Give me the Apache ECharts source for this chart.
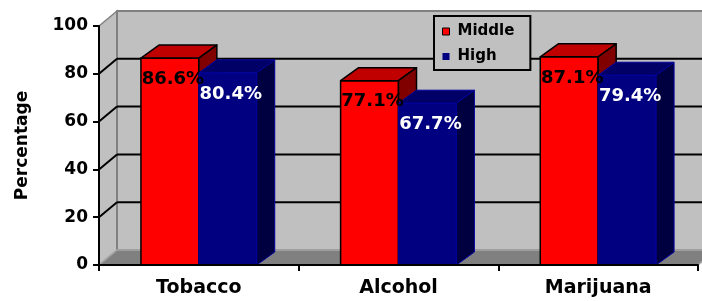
<!DOCTYPE html>
<html>
<head>
<meta charset="utf-8">
<script src="https://cdn.jsdelivr.net/npm/echarts@6/dist/echarts.min.js"></script>
<style>
    html, body { margin: 0; padding: 0; background: #fff; }
    #chart { width: 702px; height: 301px; }
</style>
</head>
<body>
<div id="chart"></div>
<script>
const categories = ['Tobacco', 'Alcohol', 'Marijuana'];
const middleValues = [86.6, 77.1, 87.1];
const highValues = [80.4, 67.7, 79.4];
const yTicks = [0, 20, 40, 60, 80, 100];

const fontFamily = '"DejaVu Sans", sans-serif';
const wallDepth = [18, 15];
const barDepth = [18, 13];
const barRatio = 0.29;

// back wall, side wall, floor and the gridlines on them
function renderWalls(params, api) {
    const cs = params.coordSys;
    const x0 = cs.x;
    const x1 = cs.x + cs.width;
    const dx = wallDepth[0], dy = wallDepth[1];
    const yBase = api.coord([0, yTicks[0]])[1];
    const yTop = api.coord([0, yTicks[yTicks.length - 1]])[1];
    const children = [
        {
            type: 'polygon',
            z2: 0,
            shape: { points: [[x0, yTop], [x0 + dx, yTop - dy], [x0 + dx, yBase - dy], [x0, yBase]] },
            style: { fill: '#c0c0c0', stroke: '#808080', lineWidth: 1.5 }
        },
        {
            type: 'polygon',
            z2: 0,
            shape: { points: [[x0 + dx, yTop - dy], [x1 + dx, yTop - dy], [x1 + dx, yBase - dy], [x0 + dx, yBase - dy]] },
            style: { fill: '#c0c0c0', stroke: '#808080', lineWidth: 2 }
        },
        {
            type: 'polygon',
            z2: 0,
            shape: { points: [[x0, yBase], [x0 + dx, yBase - dy], [x1 + dx, yBase - dy], [x1, yBase]] },
            style: { fill: '#808080', stroke: '#a8a8a8', lineWidth: 1.5 }
        }
    ];
    yTicks.slice(1, -1).forEach(v => {
        const y = api.coord([0, v])[1];
        children.push({
            type: 'line',
            z2: 5,
            shape: { x1: x0, y1: y, x2: x0 + dx, y2: y - dy },
            style: { stroke: '#000', lineWidth: 2 }
        });
        children.push({
            type: 'line',
            z2: 5,
            shape: { x1: x0 + dx, y1: y - dy, x2: x1 + dx, y2: y - dy },
            style: { stroke: '#000', lineWidth: 2 }
        });
    });
    return { type: 'group', children: children };
}

function barRenderer(side, colors) {
    return function (params, api) {
        const p = api.coord([api.value(0), api.value(1)]);
        const base = api.coord([api.value(0), 0]);
        const w = api.size([1, 0])[0] * barRatio;
        const xl = side < 0 ? p[0] - w : p[0];
        const xr = xl + w;
        const dx = barDepth[0], dy = barDepth[1];
        const st = { stroke: colors.stroke, lineWidth: colors.lineWidth, lineJoin: 'round' };
        return {
            type: 'group',
            children: [
                {
                    type: 'polygon',
                    shape: { points: [[xl, p[1]], [xr, p[1]], [xr, base[1]], [xl, base[1]]] },
                    style: Object.assign({ fill: colors.front }, st)
                },
                {
                    type: 'polygon',
                    shape: { points: [[xl, p[1]], [xl + dx, p[1] - dy], [xr + dx, p[1] - dy], [xr, p[1]]] },
                    style: Object.assign({ fill: colors.top }, st)
                },
                {
                    type: 'polygon',
                    shape: { points: [[xr, p[1]], [xr + dx, p[1] - dy], [xr + dx, base[1] - dy], [xr, base[1]]] },
                    style: Object.assign({ fill: colors.side }, st)
                }
            ]
        };
    };
}

function renderLabel(params, api) {
    const s = api.value(2);
    const p = api.coord([api.value(0), api.value(1)]);
    const w = api.size([1, 0])[0] * barRatio;
    const cx = s === 0 ? p[0] - w / 2 : p[0] + w / 2;
    return {
        type: 'text',
        x: cx + 3,
        y: p[1] + 21,
        style: {
            text: api.value(1).toFixed(1) + '%',
            fill: s === 0 ? '#000' : '#fff',
            font: 'bold 18px ' + fontFamily,
            align: 'center',
            verticalAlign: 'middle'
        }
    };
}

const labelData = [];
categories.forEach((c, i) => {
    labelData.push([i, middleValues[i], 0]);
    labelData.push([i, highValues[i], 1]);
});

const chart = echarts.init(document.getElementById('chart'));
chart.setOption({
    animation: false,
    grid: { left: 99, right: 4, top: 26, bottom: 36 },
    legend: {
        orient: 'vertical',
        left: 434,
        top: 16,
        data: [
            { name: 'Middle', itemStyle: { borderColor: '#000', borderWidth: 1 } },
            { name: 'High' }
        ],
        icon: 'rect',
        itemWidth: 7,
        itemHeight: 7,
        itemGap: 10,
        padding: [8, 16, 6, 8],
        backgroundColor: '#c0c0c0',
        borderColor: '#000',
        borderWidth: 2,
        textStyle: {
            fontFamily: fontFamily,
            fontWeight: 'bold',
            fontSize: 15,
            color: '#000',
            padding: [0, 0, 0, 3]
        }
    },
    xAxis: {
        type: 'category',
        data: categories,
        axisLine: { lineStyle: { color: '#000', width: 2 } },
        axisTick: { show: true, length: 6, lineStyle: { color: '#000', width: 2 } },
        axisLabel: {
            fontFamily: fontFamily,
            fontWeight: 'bold',
            fontSize: 19,
            color: '#000',
            margin: 14
        },
        z: 5
    },
    yAxis: {
        type: 'value',
        min: 0,
        max: 100,
        interval: 20,
        name: 'Percentage',
        nameLocation: 'middle',
        nameRotate: 90,
        nameGap: 68,
        nameTextStyle: {
            fontFamily: fontFamily,
            fontWeight: 'bold',
            fontSize: 17,
            color: '#000'
        },
        axisLine: { show: true, lineStyle: { color: '#000', width: 2 } },
        axisTick: { show: true, length: 6, lineStyle: { color: '#000', width: 2 } },
        axisLabel: {
            fontFamily: fontFamily,
            fontWeight: 'bold',
            fontSize: 17,
            color: '#000',
            margin: 11
        },
        splitLine: { show: false },
        z: 5
    },
    series: [
        {
            type: 'custom',
            name: 'walls',
            z: 1,
            silent: true,
            data: [[0, 0]],
            renderItem: renderWalls
        },
        {
            type: 'custom',
            name: 'Middle',
            z: 2,
            itemStyle: { color: '#ff0000' },
            data: categories.map((c, i) => [i, middleValues[i]]),
            renderItem: barRenderer(-1, { front: '#ff0000', top: '#c00000', side: '#800000', stroke: '#000', lineWidth: 1.5 })
        },
        {
            type: 'custom',
            name: 'High',
            z: 3,
            itemStyle: { color: '#000080' },
            data: categories.map((c, i) => [i, highValues[i]]),
            renderItem: barRenderer(1, { front: '#000080', top: '#000066', side: '#000040', stroke: '#0000a0', lineWidth: 1 })
        },
        {
            type: 'custom',
            name: 'labels',
            z: 4,
            silent: true,
            data: labelData,
            renderItem: renderLabel
        }
    ]
});
</script>
</body>
</html>
